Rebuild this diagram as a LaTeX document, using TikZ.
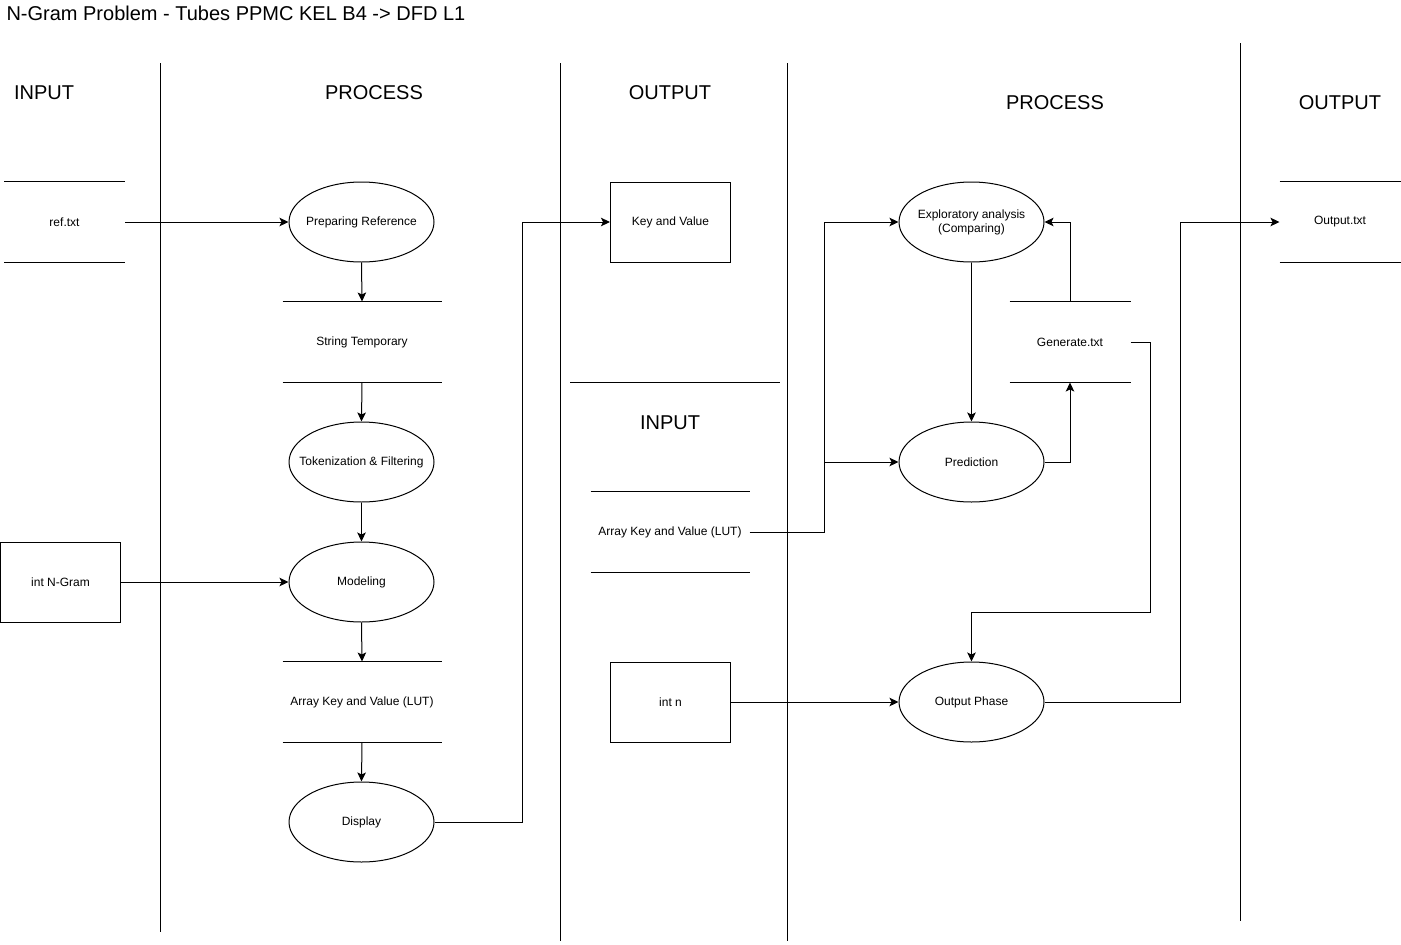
\documentclass[tikz,border=0pt]{standalone}
\usepackage{fontspec}
\setmainfont{Liberation Sans}
\usetikzlibrary{arrows.meta,shapes.geometric}
\begin{document}
\begin{tikzpicture}[x=1pt,y=-1pt,line width=1pt,
  lbl/.style={font=\fontsize{12}{14}\selectfont,align=center},
  proc/.style={lbl,ellipse,draw,minimum width=145pt,minimum height=80pt,inner ysep=0pt,inner xsep=-14pt},
  ent/.style={lbl,rectangle,draw,minimum width=120pt,minimum height=80pt,inner sep=0pt},
  store/.style={lbl,rectangle,minimum height=80pt,inner sep=0pt},
  hdr/.style={font=\fontsize{20}{24}\selectfont},
  flow/.style={-{Stealth[length=9pt,width=8.5pt,inset=2pt]}}
]
\useasboundingbox (0,0) rectangle (1401,945);
% title
\node[anchor=west,font=\fontsize{20}{23}\selectfont,inner xsep=0pt] (title) at (6,13) {N-Gram Problem - Tubes PPMC KEL B4 -> DFD L1};
% lane lines
\draw (160,63) -- (160,932);
\draw (560,63) -- (560,941);
\draw (787,63) -- (787,941);
\draw (1240,43) -- (1240,921);
\draw (570,382) -- (780,382);
% headers
\node[hdr] (h1) at (44,93) {INPUT};
\node[hdr] (h2) at (374,93) {PROCESS};
\node[hdr] (h3) at (670,93) {OUTPUT};
\node[hdr] (h4) at (1055,103) {PROCESS};
\node[hdr] (h5) at (1340,103) {OUTPUT};
\node[hdr] (h6) at (670,423) {INPUT};
% stores
\node[store,minimum width=120pt] (ref) at (64.5,222) {ref.txt};
\node[store,minimum width=158pt] (strt) at (362,342) {String Temporary};
\node[store,minimum width=158pt] (arr) at (362,702) {Array Key and Value (LUT)};
\node[store,minimum width=158pt] (lut) at (670,532) {Array Key and Value (LUT)};
\node[store,minimum width=120pt] (gen) at (1070,342) {Generate.txt};
\node[store,minimum width=120pt] (outtxt) at (1340,222) {Output.txt};
\foreach \s in {ref,strt,arr,lut,gen,outtxt}{
  \draw (\s.north west) -- (\s.north east);
  \draw (\s.south west) -- (\s.south east);
}
% entities
\node[ent] (ngram) at (60.5,582) {int N-Gram};
\node[ent] (kv) at (670.5,222) {Key and Value};
\node[ent] (intn) at (670.5,702) {int n};
% processes
\node[proc] (prep) at (361.5,222) {Preparing Reference};
\node[proc] (tok) at (361.5,462) {Tokenization \& Filtering};
\node[proc] (model) at (361.5,582) {Modeling};
\node[proc] (disp) at (361.5,822) {Display};
\node[proc] (expl) at (971.5,222) {Exploratory analysis\\(Comparing)};
\node[proc] (pred) at (971.5,462) {Prediction};
\node[proc] (outp) at (971.5,702) {Output Phase};
% flows
\draw[flow] (ref.east) -- (prep.west);
\draw[flow] (prep.south) -- (strt.north);
\draw[flow] (strt.south) -- (tok.north);
\draw[flow] (tok.south) -- (model.north);
\draw[flow] (ngram.east) -- (model.west);
\draw[flow] (model.south) -- (arr.north);
\draw[flow] (arr.south) -- (disp.north);
\draw[flow] (disp.east) -- ++(88,0) |- (kv.west);
\draw[flow] (lut.east) -- ++(75,0) |- (expl.west);
\coordinate (br) at (824,462);
\draw[flow] (br) -- (pred.west);
\draw[flow] (expl.south) -- (pred.north);
\draw[flow] (pred.east) -| (gen.south);
\draw[flow] (gen.north) |- (expl.east);
\draw[flow] (gen.east) -- ++(20,0) -- ++(0,270) -| (outp.north);
\draw[flow] (intn.east) -- (outp.west);
\draw[flow] (outp.east) -- ++(136,0) |- (outtxt.west);
\end{tikzpicture}
\end{document}
